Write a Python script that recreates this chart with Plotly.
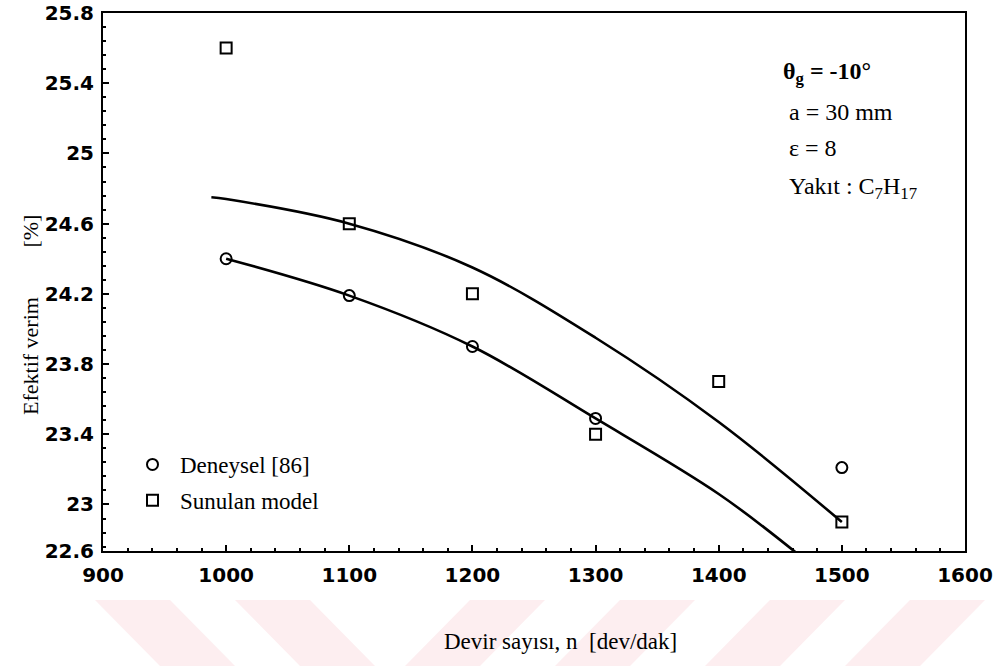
import plotly.graph_objects as go

# Data
rpm = [1000, 1100, 1200, 1300, 1400, 1500]
deneysel_x = [1000, 1100, 1200, 1300, 1500]
deneysel_y = [24.40, 24.19, 23.90, 23.49, 23.21]
model_y = [25.60, 24.60, 24.20, 23.40, 23.70, 22.90]

# Fitted curves as drawn
fit_up_x = [988, 1000, 1100, 1200, 1300, 1400, 1500]
fit_up_y = [24.75, 24.74, 24.60, 24.35, 23.95, 23.47, 22.90]
fit_lo_x = [1000, 1100, 1200, 1300, 1400, 1462]
fit_lo_y = [24.40, 24.19, 23.90, 23.49, 23.06, 22.73]

# Axis ticks as printed (the lowest label sits on the bottom frame in the scan)
y_tickvals = [22.735, 23, 23.4, 23.8, 24.2, 24.6, 25, 25.4, 25.8]
y_ticktext = ["22.6", "23", "23.4", "23.8", "24.2", "24.6", "25", "25.4", "25.8"]
x_ticks = [900, 1000, 1100, 1200, 1300, 1400, 1500, 1600]

serif = "Liberation Serif, Times New Roman, serif"
sans = "DejaVu Sans, Arial, sans-serif"

W, H = 999, 666
L, R, T, B = 103, 965, 13, 551


def px(x):
    return (x - L) / (R - L)


def py(y):
    return (B - y) / (B - T)


fig = go.Figure()
fig.add_trace(go.Scatter(x=fit_up_x, y=fit_up_y, mode="lines", line=dict(color="black", width=2.6, shape="spline"),
                         showlegend=False, hoverinfo="skip"))
fig.add_trace(go.Scatter(x=fit_lo_x, y=fit_lo_y, mode="lines", line=dict(color="black", width=2.6, shape="spline"),
                         showlegend=False, hoverinfo="skip"))
fig.add_trace(go.Scatter(x=deneysel_x, y=deneysel_y, mode="markers", name="Deneysel [86]", legendgroup="a",
                         marker=dict(symbol="circle-open", size=11, color="black", line=dict(width=2))))
fig.add_trace(go.Scatter(x=rpm, y=model_y, mode="markers", name="Sunulan model", legendgroup="b",
                         marker=dict(symbol="square-open", size=11, color="black", line=dict(width=2))))

axis_common = dict(showgrid=False, zeroline=False, showline=True, linecolor="black", linewidth=2,
                   mirror=True, ticks="inside", ticklen=6, tickwidth=1.5, tickcolor="black", automargin=False,
                   tickfont=dict(family=sans, size=20, color="black", weight="bold"))

fig.update_xaxes(range=[900, 1600], tickvals=x_ticks, ticktext=[str(v) for v in x_ticks], ticklabelstandoff=5,
                 minor=dict(ticks="inside", ticklen=3, dtick=20, tickcolor="black"), **axis_common)
fig.update_yaxes(range=[22.735, 25.8], tickvals=y_tickvals, ticktext=y_ticktext, ticklabelstandoff=3,
                 minor=dict(ticks="inside", ticklen=3, dtick=0.08, tick0=23, tickcolor="black"), **axis_common)

# faint watermark bands of the scanned page
shapes = []
for x0 in [95, 235]:
    shapes.append(dict(type="path", xref="paper", yref="paper",
                       path=f"M {px(x0)},{py(600)} L {px(x0 + 75)},{py(600)} L {px(x0 + 140)},{py(666)} L {px(x0 + 65)},{py(666)} Z",
                       fillcolor="#fdeef0", line=dict(width=0), layer="below"))
for x0 in [470, 620, 770, 910]:
    shapes.append(dict(type="path", xref="paper", yref="paper",
                       path=f"M {px(x0)},{py(600)} L {px(x0 + 75)},{py(600)} L {px(x0 + 10)},{py(666)} L {px(x0 - 65)},{py(666)} Z",
                       fillcolor="#fdeef0", line=dict(width=0), layer="below"))

fig.update_layout(
    width=W, height=H,
    margin=dict(l=L, r=W - R, t=T, b=H - B),
    paper_bgcolor="white", plot_bgcolor="white",
    showlegend=True,
    shapes=shapes,
    legend=dict(x=px(125), y=py(443), xanchor="left", yanchor="top", bgcolor="rgba(0,0,0,0)",
                font=dict(family=serif, size=23, color="black"), itemwidth=45,
                traceorder="grouped", tracegroupgap=3),
)

ann = [
    dict(text="θ<sub>g</sub> = -10°", x=781, y=73, font=dict(family=serif, size=24, color="black", weight="bold")),
    dict(text="a = 30 mm", x=787, y=112, font=dict(family=serif, size=24, color="black")),
    dict(text="ε = 8", x=787, y=148, font=dict(family=serif, size=24, color="black")),
    dict(text="Yakıt : C<sub>7</sub>H<sub>17</sub>", x=787, y=188, font=dict(family=serif, size=24, color="black")),
]
for a in ann:
    fig.add_annotation(text=a["text"], x=px(a["x"]), y=py(a["y"]), xref="paper", yref="paper",
                       xanchor="left", yanchor="middle", showarrow=False, font=a["font"])

# axis titles
fig.add_annotation(text="Devir sayısı, n  [dev/dak]", x=px(560), y=py(641),
                   xref="paper", yref="paper", xanchor="center", yanchor="middle", showarrow=False,
                   font=dict(family=serif, size=23, color="black"))
fig.add_annotation(text="Efektif verim" + "&nbsp;" * 9 + "[%]", x=px(31), y=py(315),
                   xref="paper", yref="paper", xanchor="center", yanchor="middle", showarrow=False, textangle=-90,
                   font=dict(family=serif, size=22, color="black"))

fig.write_html("out.html")
